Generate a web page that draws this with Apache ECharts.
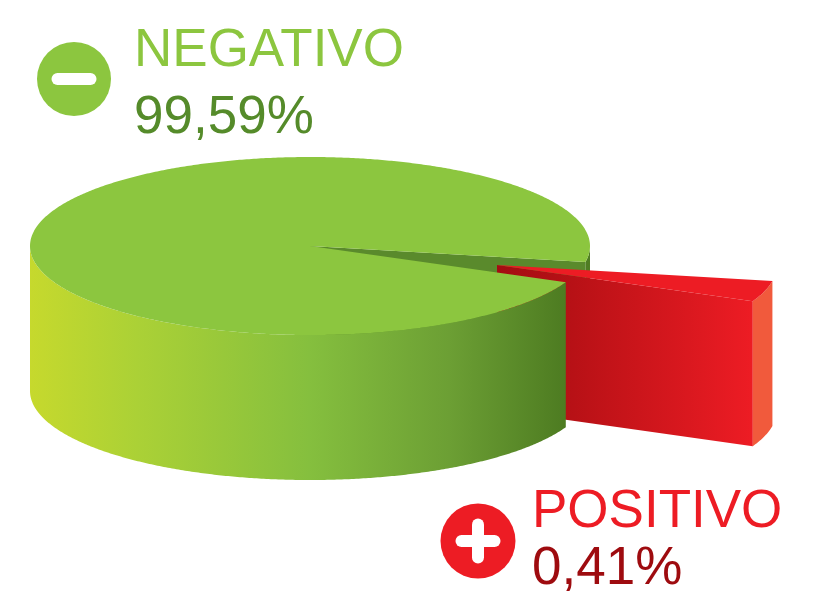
<!DOCTYPE html>
<html>
<head>
<meta charset="utf-8">
<title>Negativo / Positivo</title>
<style>
  html, body { margin: 0; padding: 0; background: #fff; }
  #main { width: 821px; height: 593px; }
</style>
<script src="https://cdn.jsdelivr.net/npm/echarts@6/dist/echarts.min.js"></script>
</head>
<body>
<div id="main"></div>
<script>
var categories = ['NEGATIVO', 'POSITIVO'];
var shareLabels = ['99,59%', '0,41%'];
// share of the circle as the wedge is drawn in the picture, wider than its 0,41% label
var drawnShares = [96.22, 3.78];

// pie layout, in axis units
var cx = 310, cy = 246, rx = 280, ry = 89, depth = 145;
var startAngle = 24;
var explode = [187, 19];

var myChart = echarts.init(document.getElementById('main'));

function gradient(x0, x1, stops) {
    return new echarts.graphic.LinearGradient(x0, 0, x1, 0, stops, true);
}

var greenWall = gradient(30, 567, [
    { offset: 0, color: '#c6d92d' },
    { offset: 0.2, color: '#abd136' },
    { offset: 0.52, color: '#85bf3e' },
    { offset: 0.78, color: '#6c9f34' },
    { offset: 1, color: '#4d7b21' }
]);
var redWall = gradient(497, 752, [
    { offset: 0, color: '#a30d12' },
    { offset: 0.3, color: '#b81116' },
    { offset: 1, color: '#ed1c24' }
]);

function renderSlice(params, api) {
    var i = params.dataIndex;
    var before = 0;
    for (var k = 0; k < i; k++) before += drawnShares[k];
    var a0 = startAngle + before * 3.6;
    var a1 = a0 + api.value(0) * 3.6;
    var off = i === 1 ? explode : [0, 0];

    function pt(angle, drop) {
        var r = angle * Math.PI / 180;
        return api.coord([cx + off[0] + rx * Math.cos(r), cy + off[1] + ry * Math.sin(r) + drop]);
    }
    function apex(drop) {
        return api.coord([cx + off[0], cy + off[1] + drop]);
    }
    function arc(from, to, drop) {
        var pts = [];
        var n = Math.max(2, Math.ceil(Math.abs(to - from) * 2));
        for (var s = 0; s <= n; s++) pts.push(pt(from + (to - from) * s / n, drop));
        return pts;
    }
    function top(z, color) {
        return { type: 'polygon', z2: z, shape: { points: [apex(0)].concat(arc(a0, a1, 0)) }, style: { fill: color } };
    }
    function wall(from, to, z, color) {
        return { type: 'polygon', z2: z, shape: { points: arc(from, to, 0).concat(arc(to, from, depth)) }, style: { fill: color } };
    }
    function cut(angle, z, color) {
        return { type: 'polygon', z2: z, shape: { points: [apex(0), pt(angle, 0), pt(angle, depth), apex(depth)] }, style: { fill: color } };
    }

    var children;
    if (i === 0) {
        children = [
            cut(a1, 1, '#5a8a2c'),
            wall(360, a1, 1, '#4f7d22'),
            wall(a0, 180, 3, greenWall),
            top(4, '#8cc63f')
        ];
    } else {
        children = [
            cut(a1, 2, redWall),
            wall(a0, a1, 2, '#f15a3c'),
            top(2, '#ed1c24')
        ];
    }
    return { type: 'group', children: children };
}

function bigText(text, x, y, color) {
    return {
        type: 'text',
        x: x,
        y: y,
        style: { text: text, fill: color, font: '53px "Liberation Sans", Arial, sans-serif', verticalAlign: 'middle' }
    };
}

function badge(x, y, r, color, plus) {
    var kids = [
        { type: 'circle', shape: { cx: x, cy: y, r: r }, style: { fill: color } },
        { type: 'rect', shape: { x: x - 22.5, y: y - 6, width: 45, height: 12, r: 6 }, style: { fill: '#fff' } }
    ];
    if (plus) {
        kids.push({ type: 'rect', shape: { x: x - 6, y: y - 22.5, width: 12, height: 45, r: 6 }, style: { fill: '#fff' } });
    }
    return { type: 'group', children: kids };
}

myChart.setOption({
    animation: false,
    backgroundColor: '#fff',
    grid: { left: 0, right: 0, top: 0, bottom: 0 },
    xAxis: { type: 'value', min: 0, max: 821, show: false },
    yAxis: { type: 'value', min: 0, max: 593, inverse: true, show: false },
    series: [{
        type: 'custom',
        coordinateSystem: 'cartesian2d',
        renderItem: renderSlice,
        clip: false,
        silent: true,
        encode: { x: 0, y: 0 },
        data: drawnShares.map(function (v, i) {
            return { name: categories[i], value: [v] };
        })
    }],
    graphic: [
        badge(74, 79, 37, '#8cc63f', false),
        badge(478, 541, 37.5, '#ed1c24', true),
        bigText(categories[0], 134, 51, '#8cc63f'),
        bigText(shareLabels[0], 134, 118, '#558b2a'),
        bigText(categories[1], 532, 512, '#ed1c24'),
        bigText(shareLabels[1], 532, 569, '#9e0b0f')
    ]
});
</script>
</body>
</html>
